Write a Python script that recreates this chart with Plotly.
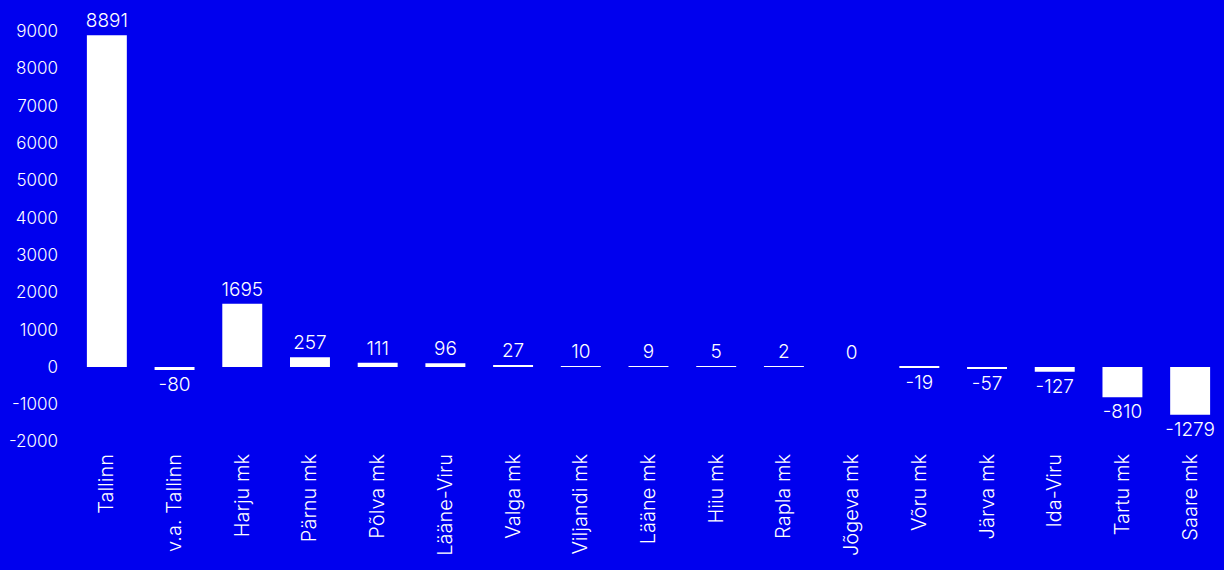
import plotly.graph_objects as go

categories = ["Tallinn", "v.a. Tallinn", "Harju mk", "Pärnu mk", "Põlva mk", "Lääne-Viru",
              "Valga mk", "Viljandi mk", "Lääne mk", "Hiiu mk", "Rapla mk", "Jõgeva mk",
              "Võru mk", "Järva mk", "Ida-Viru", "Tartu mk", "Saare mk"]
values = [8891, -80, 1695, 257, 111, 96, 27, 10, 9, 5, 2, 0, -19, -57, -127, -810, -1279]
y_ticks = [-2000, -1000, 0, 1000, 2000, 3000, 4000, 5000, 6000, 7000, 8000, 9000]

BG = "#0000EE"
FONT = "Inter"

fig = go.Figure(go.Bar(
    x=categories, y=values,
    marker=dict(color="white", line=dict(width=0)),
    text=[str(v) for v in values], textposition="outside",
    textfont=dict(color="white", size=19, family=FONT, weight=300),
    constraintext="none",
    cliponaxis=False,
))

fig.update_layout(
    width=1224, height=570,
    paper_bgcolor=BG, plot_bgcolor=BG,
    margin=dict(l=73, r=0, t=5, b=121),
    bargap=0.41,
    showlegend=False,
    font=dict(family=FONT, color="white", size=17, weight=300),
)
fig.update_xaxes(tickangle=-90, showgrid=False, zeroline=False, showline=False,
                 tickfont=dict(size=20, color="white", family=FONT, weight=300))
fig.update_yaxes(range=[-2200, 9700], tickvals=y_ticks, ticktext=[str(t) for t in y_ticks],
                 showgrid=False, zeroline=False, showline=False,
                 tickfont=dict(size=17, color="white", family=FONT, weight=300), ticklabelstandoff=14)

fig.write_html("out.html", config={"displayModeBar": False},
               post_script="document.body.style.margin='0';document.body.style.background='#0000EE';")
